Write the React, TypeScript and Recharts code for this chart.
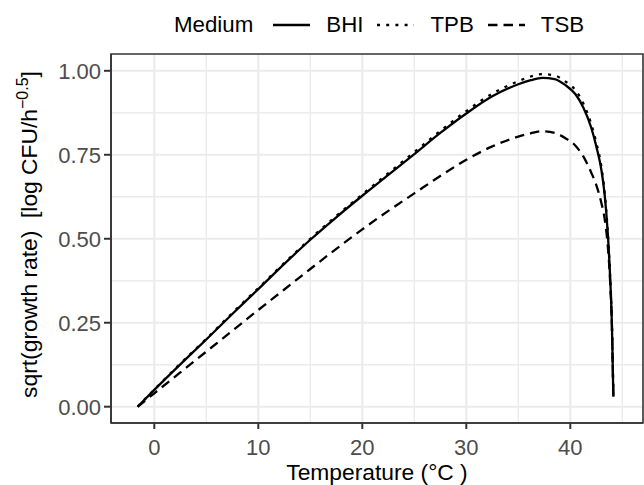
import React from 'react';
import { LineChart, Line, XAxis, YAxis, CartesianGrid, Legend, ReferenceArea } from 'recharts';

const temperature = [-1.6, 0, 2.5, 5, 7.5, 10, 12.5, 15, 17.5, 20, 22.5, 25, 27.5, 30, 32.5, 35, 36.2, 37.3, 38.5, 39.5, 40.5, 41.25, 42, 42.5, 43, 43.3, 43.6, 43.8, 44.0, 44.14];
const bhi = [0, 0.05, 0.126, 0.2, 0.276, 0.35, 0.425, 0.497, 0.564, 0.628, 0.69, 0.752, 0.815, 0.873, 0.924, 0.96, 0.972, 0.979, 0.975, 0.958, 0.93, 0.891, 0.832, 0.775, 0.703, 0.632, 0.518, 0.405, 0.245, 0.03];
const tpb = [0, 0.051, 0.128, 0.202, 0.279, 0.353, 0.428, 0.5, 0.568, 0.632, 0.695, 0.758, 0.821, 0.88, 0.932, 0.969, 0.983, 0.99, 0.986, 0.969, 0.942, 0.903, 0.843, 0.786, 0.712, 0.638, 0.521, 0.407, 0.247, 0.03];
const tsb = [0, 0.04, 0.102, 0.164, 0.226, 0.288, 0.349, 0.41, 0.47, 0.528, 0.583, 0.635, 0.687, 0.735, 0.775, 0.804, 0.814, 0.82, 0.815, 0.8, 0.777, 0.745, 0.698, 0.66, 0.605, 0.56, 0.48, 0.39, 0.24, 0.03];

const seriesNames = ['BHI', 'TPB', 'TSB'];
const seriesDash: Record<string, string | undefined> = { BHI: undefined, TPB: '3 6.2', TSB: '9.5 6' };
const legendTitle = 'Medium';

const xTicks = [0, 10, 20, 30, 40];
const xMinor = [5, 15, 25, 35, 45];
const yTicks = [0, 0.25, 0.5, 0.75, 1];
const yMinor = [0.125, 0.375, 0.625, 0.875];
const xDomain: [number, number] = [-4.163, 46.99];
const yDomain: [number, number] = [-0.0485, 1.05];

const data = temperature.map((t, i) => ({ t, BHI: bhi[i], TPB: tpb[i], TSB: tsb[i] }));

const FONT = '"Liberation Sans", Arial, Helvetica, sans-serif';

const renderYTitle = (props: any) => {
  const vb = props && props.viewBox ? props.viewBox : { x: 0, y: 54, width: 111, height: 369 };
  const cx = vb.x + 37;
  const cy = vb.y + vb.height / 2 - 4;
  return (
    <text
      x={cx}
      y={cy}
      transform={`rotate(-90 ${cx} ${cy})`}
      textAnchor="middle"
      fontSize={22.8}
      fill="#000"
      fontFamily={FONT}
      style={{ whiteSpace: 'pre' }}
    >
      <tspan>sqrt(growth rate)  [log CFU/h</tspan>
      <tspan fontSize={16} dy={-9.5}>−0.5</tspan>
      <tspan dy={9.5}>]</tspan>
    </text>
  );
};

const renderXTitle = (props: any) => {
  const vb = props && props.viewBox ? props.viewBox : { x: 111, y: 423, width: 532, height: 62 };
  const cx = vb.x + vb.width / 2;
  const cy = vb.y + 57;
  return (
    <text x={cx} y={cy} textAnchor="middle" fontSize={22.8} fill="#000" fontFamily={FONT} style={{ whiteSpace: 'pre' }}>
      Temperature (°C )
    </text>
  );
};

const renderLegend = () => (
  <div style={{ display: 'flex', alignItems: 'center', height: 34, lineHeight: '34px', fontFamily: FONT, fontSize: 22.3, color: '#000', whiteSpace: 'nowrap' }}>
    <span style={{ marginRight: 20 }}>{legendTitle}</span>
    {seriesNames.map((name) => (
      <span key={name} style={{ display: 'flex', alignItems: 'center', marginRight: 14 }}>
        <svg width={37} height={10} style={{ display: 'block' }}>
          <line x1={0} y1={5} x2={37} y2={5} stroke="#000" strokeWidth={2.4} strokeDasharray={seriesDash[name]} />
        </svg>
        <span style={{ marginLeft: 16 }}>{name}</span>
      </span>
    ))}
  </div>
);

export default function App() {
  return (
    <div style={{ position: 'absolute', left: 0, top: 0, width: 644, height: 485, background: '#fff' }}>
      <LineChart width={644} height={485} data={data} margin={{ top: 54, right: 1, bottom: 0, left: 0 }}>
        <CartesianGrid verticalValues={xMinor} horizontalValues={yMinor} stroke="#EBEBEB" strokeWidth={1.4} />
        <CartesianGrid verticalValues={xTicks} horizontalValues={yTicks} stroke="#EBEBEB" strokeWidth={2.1} />
        <XAxis
          dataKey="t"
          type="number"
          domain={xDomain}
          ticks={xTicks}
          allowDataOverflow
          height={62}
          tickSize={6}
          tickMargin={10}
          axisLine={{ stroke: '#333333', strokeWidth: 1.6 }}
          tickLine={{ stroke: '#333333', strokeWidth: 2 }}
          tick={{ fill: '#4D4D4D', fontSize: 22, fontFamily: FONT }}
          label={renderXTitle}
        />
        <YAxis
          type="number"
          domain={yDomain}
          ticks={yTicks}
          allowDataOverflow
          width={111}
          tickSize={7}
          tickMargin={3}
          tickFormatter={(v: number) => v.toFixed(2)}
          axisLine={{ stroke: '#333333', strokeWidth: 1.6 }}
          tickLine={{ stroke: '#333333', strokeWidth: 2 }}
          tick={{ fill: '#4D4D4D', fontSize: 22, fontFamily: FONT }}
          label={renderYTitle}
        />
        <Legend
          verticalAlign="middle"
          align="center"
          layout="horizontal"
          wrapperStyle={{ position: 'absolute', top: 8, left: 174, width: 'auto', height: 'auto' }}
          content={renderLegend}
        />
        {seriesNames.map((name) => (
          <Line
            key={name}
            dataKey={name}
            type="monotone"
            stroke="#000"
            strokeWidth={2.3}
            strokeDasharray={seriesDash[name]}
            dot={false}
            activeDot={false}
            isAnimationActive={false}
          />
        ))}
        <ReferenceArea
          x1={xDomain[0]}
          x2={xDomain[1]}
          y1={yDomain[0]}
          y2={yDomain[1]}
          ifOverflow="visible"
          fill="none"
          fillOpacity={0}
          stroke="#333333"
          strokeWidth={1.6}
        />
      </LineChart>
    </div>
  );
}
